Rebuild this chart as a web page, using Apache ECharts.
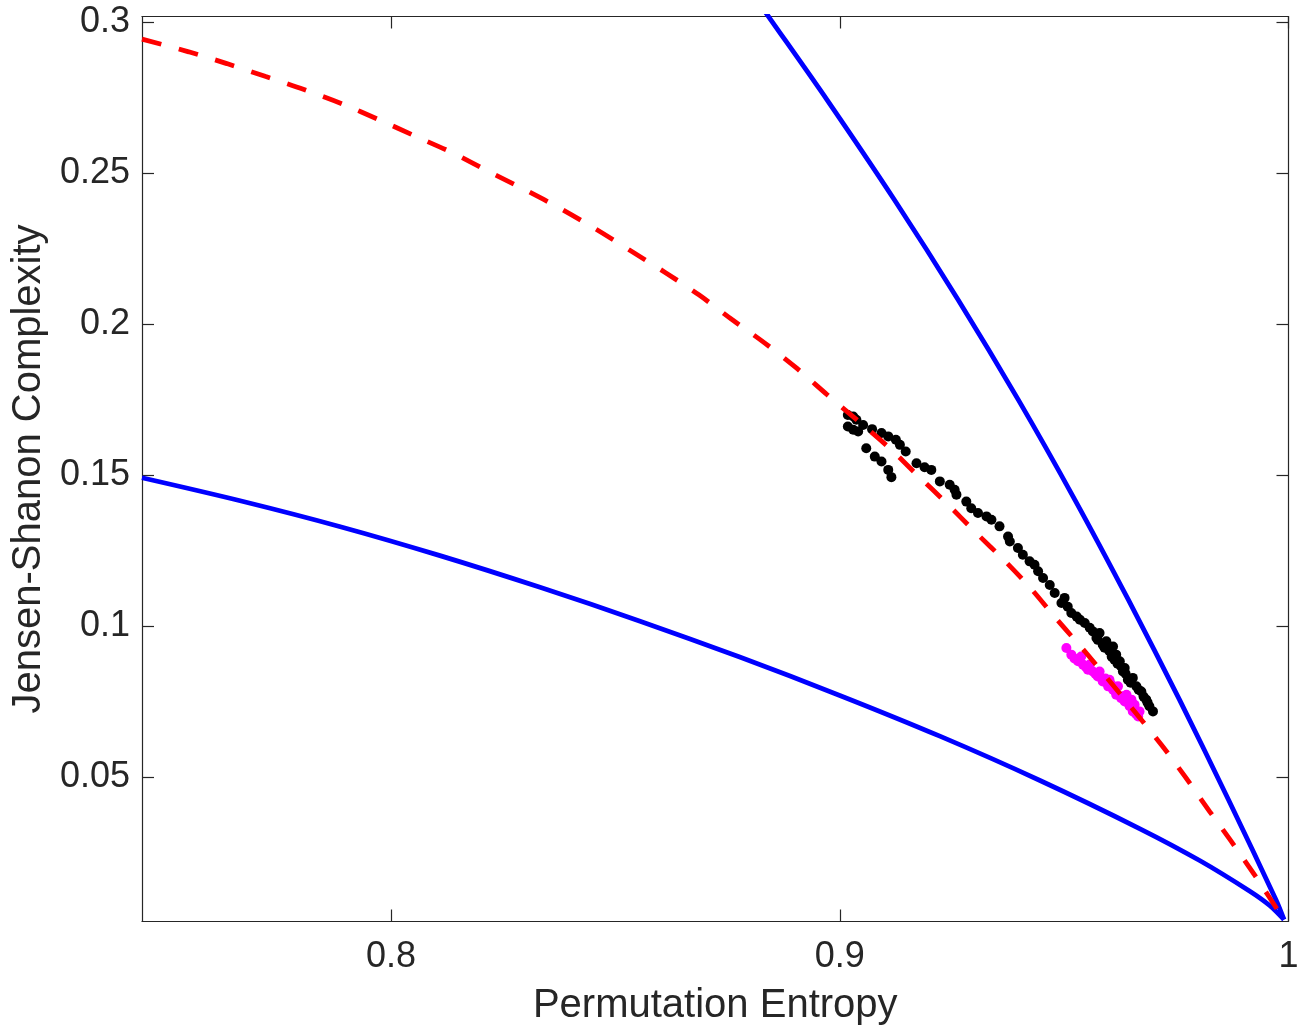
<!DOCTYPE html>
<html>
<head>
<meta charset="utf-8">
<script src="https://cdn.jsdelivr.net/npm/echarts@6/dist/echarts.min.js"></script>
<style>
html,body{margin:0;padding:0;background:#fff;}
#chart{width:1306px;height:1033px;}
</style>
</head>
<body>
<div id="chart"></div>
<script>
// ---- data ----
const xTickValues = [0.8, 0.9, 1];
const xTickLabels = ['0.8', '0.9', '1'];
const yTickValues = [0.05, 0.1, 0.15, 0.2, 0.25, 0.3];
const yTickLabels = ['0.05', '0.1', '0.15', '0.2', '0.25', '0.3'];

const lowerBound = [
  [0.7445, 0.1492], [0.7666, 0.1415], [0.7889, 0.1329], [0.8109, 0.1234],
  [0.8332, 0.1129], [0.8555, 0.1017], [0.8777, 0.0898], [0.9000, 0.0771],
  [0.9223, 0.0636], [0.9445, 0.0490], [0.9668, 0.0330], [0.9802, 0.0224],
  [0.9913, 0.0123], [0.9958, 0.0075], [0.9990, 0.0028]
];
const upperBound = [
  [0.8815, 0.3075], [0.8844, 0.3014], [0.8972, 0.2743], [0.9122, 0.2412],
  [0.9264, 0.2081], [0.9398, 0.1750], [0.9524, 0.1419], [0.9643, 0.1088],
  [0.9757, 0.0757], [0.9866, 0.0426], [0.9972, 0.0094], [0.9990, 0.0028]
];
const fitCurve = [
  [0.7445, 0.2945], [0.7549, 0.2903], [0.7634, 0.2864], [0.7721, 0.2821],
  [0.7806, 0.2778], [0.7892, 0.2730], [0.7973, 0.2678], [0.8055, 0.2623],
  [0.8139, 0.2567], [0.8218, 0.2506], [0.8300, 0.2445], [0.8380, 0.2382],
  [0.8456, 0.2316], [0.8534, 0.2244], [0.8610, 0.2173], [0.8686, 0.2098],
  [0.8759, 0.2017], [0.8833, 0.1938], [0.8904, 0.1855], [0.8972, 0.1767],
  [0.9109, 0.1593], [0.9174, 0.1499], [0.9238, 0.1408], [0.9302, 0.1312],
  [0.9369, 0.1215], [0.9426, 0.1125], [0.9486, 0.1019], [0.9546, 0.0917],
  [0.9631, 0.0765], [0.9718, 0.0605], [0.9770, 0.0501], [0.9824, 0.0387],
  [0.9876, 0.0280], [0.9929, 0.0166], [0.9990, 0.0028]
];
const blackPoints = [
  [0.9018, 0.1700], [0.9030, 0.1695], [0.9037, 0.1684], [0.9018, 0.1662],
  [0.9030, 0.1651], [0.9041, 0.1645], [0.9052, 0.1667], [0.9072, 0.1653],
  [0.9093, 0.1640], [0.9108, 0.1629], [0.9125, 0.1618], [0.9134, 0.1601],
  [0.9147, 0.1579], [0.9059, 0.1590], [0.9078, 0.1562], [0.9093, 0.1546],
  [0.9108, 0.1518], [0.9115, 0.1494], [0.9171, 0.1540], [0.9189, 0.1527],
  [0.9204, 0.1518], [0.9223, 0.1480], [0.9245, 0.1469], [0.9256, 0.1452],
  [0.9260, 0.1436], [0.9282, 0.1413], [0.9293, 0.1391], [0.9308, 0.1375],
  [0.9327, 0.1364], [0.9338, 0.1353], [0.9356, 0.1331], [0.9375, 0.1297],
  [0.9379, 0.1281], [0.9397, 0.1259], [0.9408, 0.1237], [0.9423, 0.1215],
  [0.9434, 0.1204], [0.9442, 0.1182], [0.9453, 0.1160], [0.9468, 0.1137],
  [0.9479, 0.1110], [0.9494, 0.1077], [0.9516, 0.1044], [0.9546, 0.1011],
  [0.9564, 0.0983], [0.9572, 0.0961], [0.9579, 0.0978], [0.9586, 0.0939],
  [0.9594, 0.0950], [0.9601, 0.0917], [0.9609, 0.0933], [0.9612, 0.0889],
  [0.9616, 0.0906], [0.9624, 0.0884], [0.9627, 0.0867], [0.9631, 0.0850],
  [0.9635, 0.0862], [0.9642, 0.0823], [0.9653, 0.0829], [0.9661, 0.0801],
  [0.9672, 0.0784], [0.9683, 0.0757], [0.9690, 0.0735], [0.9698, 0.0718],
  [0.9557, 0.0995], [0.9575, 0.0955], [0.9590, 0.0929], [0.9606, 0.0899],
  [0.9619, 0.0876], [0.9637, 0.0843], [0.9648, 0.0813], [0.9666, 0.0790],
  [0.9677, 0.0767], [0.9686, 0.0747], [0.9535, 0.1022], [0.9508, 0.1065],
  [0.9528, 0.1032], [0.9501, 0.1094]
];
const magentaPoints = [
  [0.9505, 0.0928], [0.9516, 0.0906], [0.9531, 0.0884], [0.9538, 0.0900],
  [0.9542, 0.0873], [0.9553, 0.0856], [0.9557, 0.0873], [0.9564, 0.0850],
  [0.9575, 0.0834], [0.9579, 0.0850], [0.9586, 0.0817], [0.9598, 0.0801],
  [0.9601, 0.0823], [0.9609, 0.0790], [0.9616, 0.0773], [0.9620, 0.0801],
  [0.9627, 0.0762], [0.9635, 0.0751], [0.9639, 0.0773], [0.9646, 0.0735],
  [0.9650, 0.0757], [0.9653, 0.0718], [0.9657, 0.0740], [0.9665, 0.0701],
  [0.9668, 0.0718], [0.9523, 0.0893], [0.9548, 0.0866], [0.9570, 0.0842],
  [0.9592, 0.0827], [0.9605, 0.0808], [0.9613, 0.0786], [0.9631, 0.0768],
  [0.9643, 0.0747], [0.9660, 0.0710]
];

const xTitle = 'Permutation Entropy';
const yTitle = 'Jensen-Shanon Complexity';

// ---- chart ----
const FONT = '"Liberation Sans", Arial, Helvetica, sans-serif';
const AX = '#262626';
const X_MIN = 0.7445, X_MAX = 1.0, Y_MIN = 0.0022, Y_MAX = 0.302;

function labelFor(values, labels) {
  return function (v) {
    for (let i = 0; i < values.length; i++) {
      if (Math.abs(values[i] - v) < 1e-9) return labels[i];
    }
    return '';
  };
}

const baseAxisLine = { show: true, onZero: false, lineStyle: { color: AX, width: 1.2 } };

const chart = echarts.init(document.getElementById('chart'), null, { renderer: 'canvas' });
chart.setOption({
  animation: false,
  backgroundColor: '#ffffff',
  grid: { left: 142, right: 17.5, top: 16.5, bottom: 111.5, containLabel: false },
  xAxis: [
    {
      type: 'value', min: X_MIN, max: X_MAX, position: 'bottom',
      axisLine: baseAxisLine,
      axisTick: { show: true, inside: true, length: 12, customValues: xTickValues, lineStyle: { color: AX, width: 1.2 } },
      axisLabel: { show: true, customValues: xTickValues, formatter: labelFor(xTickValues, xTickLabels),
        fontFamily: FONT, fontSize: 36, color: AX, margin: 18 },
      splitLine: { show: false },
      name: xTitle, nameLocation: 'middle', nameGap: 64,
      nameTextStyle: { fontFamily: FONT, fontSize: 40, color: AX }
    },
    {
      type: 'value', min: X_MIN, max: X_MAX, position: 'top',
      axisLine: baseAxisLine,
      axisTick: { show: true, inside: true, length: 12, customValues: xTickValues, lineStyle: { color: AX, width: 1.2 } },
      axisLabel: { show: false },
      splitLine: { show: false }
    }
  ],
  yAxis: [
    {
      type: 'value', min: Y_MIN, max: Y_MAX, position: 'left',
      axisLine: baseAxisLine,
      axisTick: { show: true, inside: true, length: 12, customValues: yTickValues, lineStyle: { color: AX, width: 1.2 } },
      axisLabel: { show: true, customValues: yTickValues, formatter: labelFor(yTickValues, yTickLabels),
        fontFamily: FONT, fontSize: 36, color: AX, margin: 12 },
      splitLine: { show: false },
      name: yTitle, nameLocation: 'middle', nameGap: 92, nameRotate: 90,
      nameTextStyle: { fontFamily: FONT, fontSize: 40, color: AX }
    },
    {
      type: 'value', min: Y_MIN, max: Y_MAX, position: 'right',
      axisLine: baseAxisLine,
      axisTick: { show: true, inside: true, length: 12, customValues: yTickValues, lineStyle: { color: AX, width: 1.2 } },
      axisLabel: { show: false },
      splitLine: { show: false }
    }
  ],
  series: [
    {
      type: 'line', data: lowerBound, xAxisIndex: 0, yAxisIndex: 0,
      showSymbol: false, smooth: 0.3, clip: true,
      lineStyle: { color: '#0000ff', width: 4.8 }
    },
    {
      type: 'line', data: upperBound, xAxisIndex: 0, yAxisIndex: 0,
      showSymbol: false, smooth: 0.3, clip: true,
      lineStyle: { color: '#0000ff', width: 4.8 }
    },
    {
      type: 'line', data: fitCurve, xAxisIndex: 0, yAxisIndex: 0,
      showSymbol: false, smooth: 0.3, clip: true,
      lineStyle: { color: '#ff0000', width: 4.8, type: [20, 18], cap: 'butt' }
    },
    {
      type: 'scatter', data: blackPoints, xAxisIndex: 0, yAxisIndex: 0,
      symbol: 'circle', symbolSize: 10,
      itemStyle: { color: '#000000', opacity: 1 }
    },
    {
      type: 'scatter', data: magentaPoints, xAxisIndex: 0, yAxisIndex: 0,
      symbol: 'circle', symbolSize: 10,
      itemStyle: { color: '#ff00ff', opacity: 1 }
    }
  ]
});
</script>
</body>
</html>
